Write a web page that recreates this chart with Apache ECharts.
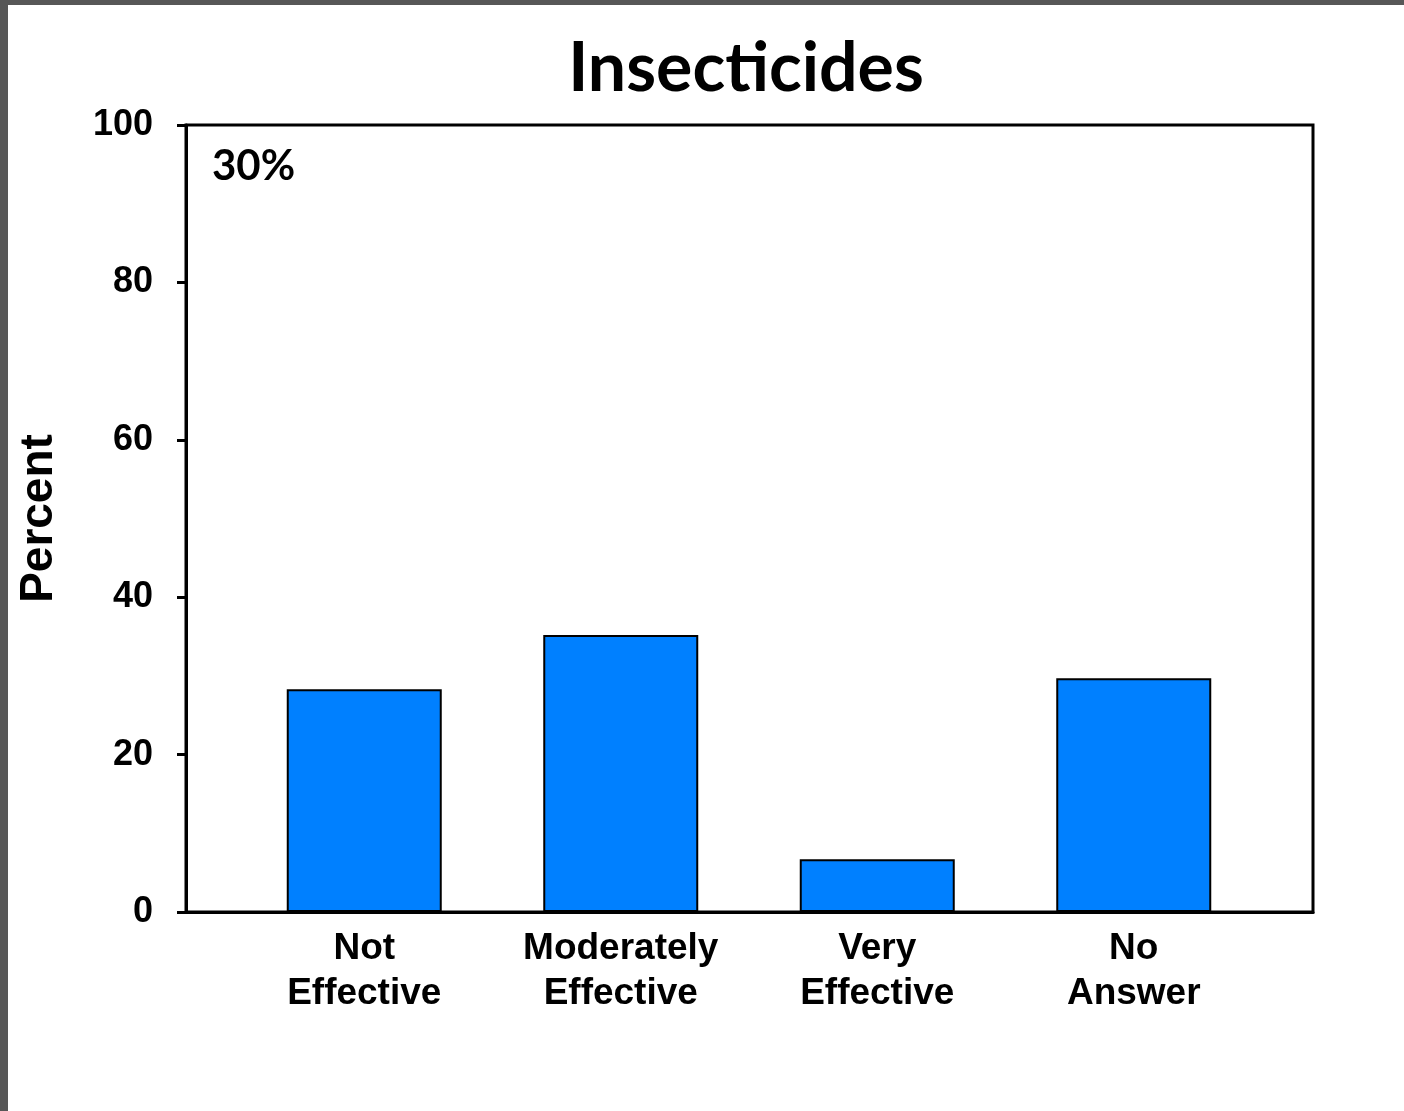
<!DOCTYPE html>
<html>
<head>
<meta charset="utf-8">
<script src="https://cdn.jsdelivr.net/npm/echarts@6/dist/echarts.min.js"></script>
<style>
  html, body { margin: 0; padding: 0; background: #575757; width: 1404px; height: 1111px; overflow: hidden; }
  #chart { position: absolute; left: 8px; top: 5px; width: 1396px; height: 1106px; background: #fff; }
</style>
</head>
<body>
<div id="chart"></div>
<script>
var categories = ['Not\nEffective', 'Moderately\nEffective', 'Very\nEffective', 'No\nAnswer'];
var percentValues = [28.3, 35.2, 6.7, 29.7];
var yTicks = [0, 20, 40, 60, 80, 100];

var myBarChart = echarts.init(document.getElementById('chart'));

var labelFont = 'Liberation Sans, Arial, sans-serif';

option = {
    animation: false,
    title: {
        text: 'Insecticides',
        left: 733,
        top: 25,
        textAlign: 'center',
        textStyle: {
            fontFamily: 'Lato',
            fontWeight: 'bold',
            fontSize: 68,
            color: '#000'
        }
    },
    graphic: [
        {
            type: 'text',
            left: 204,
            top: 140,
            style: {
                text: '30%',
                fontFamily: 'Lato',
                fontWeight: 'bold',
                fontSize: 42,
                fill: '#000'
            }
        }
    ],
    grid: [
        // frame + y axis
        { left: 176, right: 91, top: 120, bottom: 199, show: true, borderColor: '#000', borderWidth: 3, backgroundColor: 'transparent' },
        // bars
        { left: 228, right: 142, top: 120, bottom: 199 }
    ],
    xAxis: [
        {
            type: 'category',
            gridIndex: 0,
            data: categories,
            axisLine: { show: true, lineStyle: { color: '#000', width: 3 } },
            axisTick: { show: false },
            axisLabel: { show: false }
        },
        {
            type: 'category',
            gridIndex: 1,
            data: categories,
            axisLine: { show: false },
            axisTick: { show: false },
            axisLabel: {
                margin: 14,
                fontFamily: labelFont,
                fontWeight: 'bold',
                fontSize: 37,
                lineHeight: 45,
                color: '#000'
            }
        }
    ],
    yAxis: [
        {
            type: 'value',
            gridIndex: 0,
            min: yTicks[0],
            max: yTicks[yTicks.length - 1],
            interval: 20,
            name: 'Percent',
            nameLocation: 'middle',
            nameGap: 124,
            nameRotate: 90,
            nameTextStyle: {
                fontFamily: labelFont,
                fontWeight: 'bold',
                fontSize: 46,
                color: '#000'
            },
            axisLine: { show: true, lineStyle: { color: '#000', width: 3 } },
            axisTick: { show: true, inside: false, length: 9, lineStyle: { color: '#000', width: 3 } },
            axisLabel: {
                margin: 33,
                fontFamily: labelFont,
                fontWeight: 'bold',
                fontSize: 36,
                color: '#000'
            },
            splitLine: { show: false }
        },
        {
            type: 'value',
            gridIndex: 1,
            min: yTicks[0],
            max: yTicks[yTicks.length - 1],
            interval: 20,
            show: false,
            splitLine: { show: false }
        }
    ],
    series: [
        {
            name: 'Percent',
            type: 'bar',
            xAxisIndex: 1,
            yAxisIndex: 1,
            barWidth: 155,
            data: percentValues,
            itemStyle: {
                color: '#0080FF',
                borderColor: '#000',
                borderWidth: 2
            }
        }
    ]
};

myBarChart.setOption(option);
window.addEventListener("resize", function () {
    myBarChart.resize();
});
</script>
</body>
</html>
